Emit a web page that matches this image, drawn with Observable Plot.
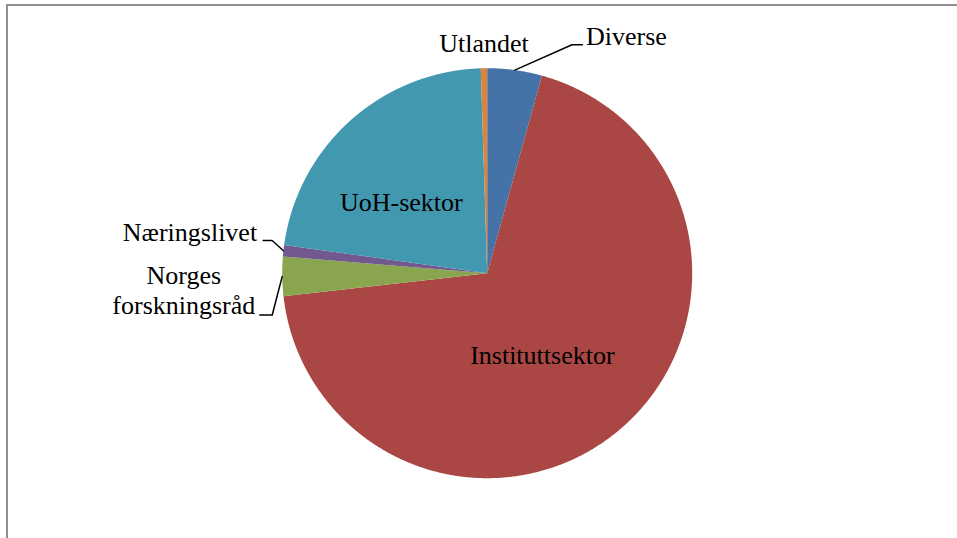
<!DOCTYPE html>
<html><head><meta charset="utf-8">
<script src="https://cdn.jsdelivr.net/npm/d3@7"></script>
<script src="https://cdn.jsdelivr.net/npm/@observablehq/plot@0.6"></script>
<style>
html,body{margin:0;padding:0;background:#fff;overflow:hidden;width:957px;height:538px}
#wrap{position:relative;width:957px;height:538px}
#frame{position:absolute;left:6px;top:4px;width:1200px;height:800px;border:2px solid #8f8f8f;box-sizing:border-box}
#chart{position:absolute;left:0;top:0}
</style></head><body><div id="wrap"><div id="frame"></div><div id="chart"></div></div>
<script>
// ---- data ----
const categories = ["Diverse", "Instituttsektor", "Norges forskningsråd", "Næringslivet", "UoH-sektor", "Utlandet"];
const values = [4.3, 68.9, 3.1, 0.9, 22.3, 0.5];
const labels = ["Diverse", "Instituttsektor", "Norges\nforskningsråd", "Næringslivet", "UoH-sektor", "Utlandet"];
const colors = ["#4572a7", "#aa4643", "#89a54e", "#71588f", "#4198af", "#db843d"];

// ---- layout (pixels) ----
const CX = 486.7, CY = 272.7, R = 205;
const labelLayout = {
  "Diverse":              {kind: "leader", elbow: [57.2, -25.3], run: 10.3, text: [3.7, 0.7], anchor: "start"},
  "Instituttsektor":      {kind: "inside", text: [-11.4, 12.5], anchor: "middle"},
  "Norges forskningsråd": {kind: "leader", elbow: [-10, 38.6], run: -12.4, text: [-76, -0.7], anchor: "middle"},
  "Næringslivet":         {kind: "leader", elbow: [-11.3, -10.2], run: -9, text: [-6, 0.7], anchor: "end"},
  "UoH-sektor":           {kind: "inside", text: [-17.4, 14.4], anchor: "middle"},
  "Utlandet":             {kind: "edge", text: [0, -16], anchor: "middle"}
};

const data = categories.map((c, i) => ({name: c, value: values[i], label: labels[i]}));
const arcs = d3.pie().sort(null).value(d => d.value)(data);

// slice polygons in unit coordinates
const slicePts = [];
for (const a of arcs) {
  const n = Math.max(2, Math.ceil((a.endAngle - a.startAngle) / (Math.PI / 720)));
  slicePts.push({name: a.data.name, x: 0, y: 0});
  for (let k = 0; k <= n; k++) {
    const t = a.startAngle + (a.endAngle - a.startAngle) * k / n;
    slicePts.push({name: a.data.name, x: Math.sin(t), y: Math.cos(t)});
  }
}

// leader lines and label anchors
const px = (ux, uy, dx, dy) => [ux + dx / R, uy - dy / R];
const leaderPts = [], labelPts = [];
for (const a of arcs) {
  const L = labelLayout[a.data.name];
  const m = (a.startAngle + a.endAngle) / 2;
  const ex = Math.sin(m), ey = Math.cos(m);
  let ax, ay;
  if (L.kind === "leader") {
    const [px1, py1] = px(ex, ey, L.elbow[0], L.elbow[1]);
    const [px2, py2] = px(px1, py1, L.run, 0);
    leaderPts.push({name: a.data.name, x: ex, y: ey}, {name: a.data.name, x: px1, y: py1}, {name: a.data.name, x: px2, y: py2});
    [ax, ay] = px(px2, py2, L.text[0], L.text[1]);
  } else if (L.kind === "inside") {
    [ax, ay] = px(ex * 0.5, ey * 0.5, L.text[0], L.text[1]);
  } else {
    [ax, ay] = px(ex, ey, L.text[0], L.text[1]);
  }
  labelPts.push({name: a.data.name, label: a.data.label, anchor: L.anchor, x: ax, y: ay});
}

const textOpts = {x: "x", y: "y", text: "label", fill: "black", fontSize: 26, lineAnchor: "bottom", lineHeight: 1.15};

const chart = Plot.plot({
  width: 957,
  height: 538,
  x: {domain: [-1, 1], range: [CX - R, CX + R], axis: null},
  y: {domain: [-1, 1], range: [CY + R, CY - R], axis: null},
  color: {type: "ordinal", domain: categories, range: colors},
  style: {fontFamily: "'Liberation Serif', 'Times New Roman', serif", background: "transparent"},
  marks: [
    Plot.line(slicePts, {x: "x", y: "y", z: "name", fill: "name", stroke: "none", curve: "linear-closed"}),
    Plot.line(leaderPts, {x: "x", y: "y", z: "name", stroke: "black", strokeWidth: 1.5}),
    Plot.text(labelPts.filter(d => d.anchor === "start"), {...textOpts, textAnchor: "start"}),
    Plot.text(labelPts.filter(d => d.anchor === "middle"), {...textOpts, textAnchor: "middle"}),
    Plot.text(labelPts.filter(d => d.anchor === "end"), {...textOpts, textAnchor: "end"})
  ]
});
document.getElementById("chart").appendChild(chart);
</script>
</body></html>
